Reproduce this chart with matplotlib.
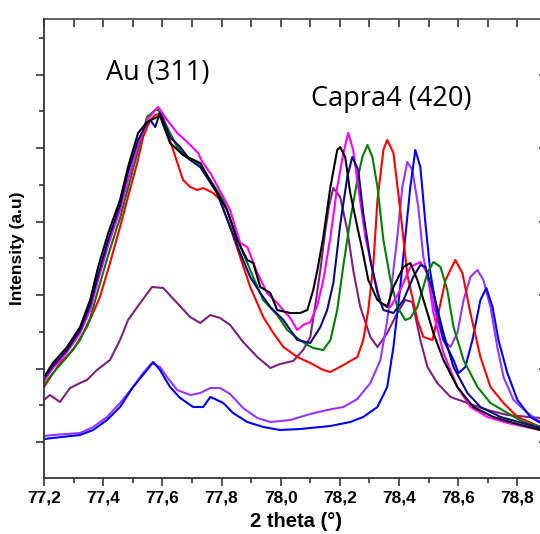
import numpy as np
import matplotlib
matplotlib.use('Agg')
import matplotlib.pyplot as plt
from matplotlib.ticker import MultipleLocator, FuncFormatter

# Diffractogrammes : (2 theta, intensite en u.a.)
black = [(77.200, 650), (77.230, 790), (77.278, 950), (77.322, 1150), (77.356, 1420), (77.383, 1750),
         (77.417, 2090), (77.457, 2420), (77.484, 2750), (77.518, 3090), (77.548, 3200), (77.576, 3240),
         (77.592, 3260), (77.626, 2990), (77.670, 2870), (77.728, 2790), (77.785, 2490), (77.819, 2320),
         (77.853, 2020), (77.887, 1820), (77.907, 1790), (77.931, 1550), (77.965, 1490), (77.988, 1320),
         (78.032, 1290), (78.066, 1290), (78.090, 1320), (78.110, 1520), (78.124, 1720), (78.144, 2050),
         (78.168, 2550), (78.191, 2920), (78.201, 2950), (78.218, 2850), (78.235, 2490), (78.259, 2150),
         (78.276, 1920), (78.296, 1620), (78.327, 1420), (78.360, 1350), (78.381, 1550), (78.415, 1750),
         (78.438, 1790), (78.462, 1620), (78.496, 1290), (78.516, 1090), (78.550, 820), (78.597, 550),
         (78.651, 350), (78.719, 250), (78.787, 190), (78.878, 120), (78.900, 100)]

magenta = [(77.200, 610), (77.230, 740), (77.278, 900), (77.322, 1090), (77.356, 1320), (77.383, 1620),
           (77.417, 1970), (77.457, 2320), (77.484, 2620), (77.518, 2970), (77.548, 3220), (77.576, 3320),
           (77.586, 3350), (77.616, 3220), (77.650, 3090), (77.684, 3000), (77.721, 2890), (77.735, 2800),
           (77.762, 2690), (77.806, 2450), (77.829, 2320), (77.863, 1990), (77.887, 1950), (77.921, 1690),
           (77.954, 1490), (77.988, 1390), (78.032, 1240), (78.056, 1120), (78.076, 1170), (78.100, 1200),
           (78.124, 1370), (78.144, 1620), (78.168, 2050), (78.191, 2550), (78.212, 2890), (78.228, 3090),
           (78.245, 2920), (78.262, 2550), (78.286, 2050), (78.313, 1690), (78.337, 1390), (78.371, 1350),
           (78.404, 1520), (78.438, 1750), (78.472, 1800), (78.496, 1690), (78.516, 1290), (78.550, 890),
           (78.597, 550), (78.641, 350), (78.699, 250), (78.766, 190), (78.878, 120), (78.902, 110)]

navy = [(77.200, 640), (77.230, 760), (77.278, 920), (77.322, 1120), (77.356, 1370), (77.383, 1670),
        (77.417, 2020), (77.457, 2370), (77.484, 2700), (77.518, 3020), (77.548, 3190), (77.559, 3220),
        (77.576, 3150), (77.592, 3290), (77.626, 3050), (77.660, 2950), (77.694, 2820), (77.728, 2750),
        (77.785, 2490), (77.829, 2150), (77.863, 1890), (77.897, 1650), (77.931, 1490), (77.965, 1350),
        (78.009, 1220), (78.056, 1020), (78.100, 990), (78.134, 1150), (78.157, 1320), (78.178, 1590),
        (78.201, 2170), (78.225, 2650), (78.242, 2850), (78.262, 2720), (78.279, 2290), (78.303, 1820),
        (78.327, 1490), (78.347, 1320), (78.381, 1290), (78.415, 1420), (78.448, 1650), (78.472, 1770),
        (78.489, 1750), (78.516, 1490), (78.550, 1090), (78.584, 750), (78.631, 490), (78.675, 350),
        (78.743, 250), (78.878, 140), (78.902, 130)]

green = [(77.200, 570), (77.230, 690), (77.278, 850), (77.322, 1020), (77.356, 1240), (77.383, 1520),
         (77.417, 1870), (77.457, 2240), (77.484, 2540), (77.518, 2920), (77.548, 3250), (77.576, 3320),
         (77.586, 3320), (77.616, 3150), (77.650, 2950), (77.684, 2840), (77.718, 2790), (77.762, 2620),
         (77.806, 2420), (77.839, 2150), (77.873, 1890), (77.907, 1650), (77.941, 1420), (77.988, 1270),
         (78.022, 1120), (78.056, 1040), (78.090, 970), (78.110, 940), (78.144, 920), (78.168, 1020),
         (78.191, 1320), (78.212, 1770), (78.235, 2220), (78.259, 2620), (78.276, 2850), (78.293, 2970),
         (78.310, 2850), (78.327, 2550), (78.347, 2020), (78.371, 1620), (78.394, 1350), (78.421, 1220),
         (78.438, 1240), (78.462, 1350), (78.496, 1690), (78.516, 1800), (78.540, 1750), (78.563, 1520),
         (78.584, 1150), (78.618, 820), (78.665, 550), (78.709, 390), (78.766, 290), (78.820, 200),
         (78.878, 150), (78.902, 140)]

red = [(77.200, 550), (77.254, 790), (77.298, 920), (77.345, 1150), (77.389, 1450), (77.423, 1790),
       (77.457, 2150), (77.481, 2420), (77.515, 2790), (77.535, 3050), (77.559, 3220), (77.576, 3270),
       (77.599, 3290), (77.633, 2950), (77.670, 2620), (77.694, 2550), (77.718, 2520), (77.738, 2540),
       (77.772, 2490), (77.795, 2420), (77.829, 2150), (77.863, 1850), (77.897, 1550), (77.941, 1250),
       (77.975, 1090), (78.009, 950), (78.056, 850), (78.100, 790), (78.144, 720), (78.168, 700),
       (78.212, 770), (78.259, 850), (78.279, 1020), (78.296, 1320), (78.313, 1770), (78.327, 2420),
       (78.347, 2920), (78.360, 3020), (78.381, 2890), (78.404, 2320), (78.428, 1670), (78.462, 1220),
       (78.482, 1050), (78.513, 1020), (78.533, 1290), (78.557, 1620), (78.590, 1820), (78.614, 1690),
       (78.641, 1290), (78.675, 850), (78.709, 550), (78.753, 390), (78.800, 250), (78.878, 150),
       (78.902, 140)]

violet = [(77.200, 60), (77.230, 70), (77.322, 90), (77.366, 150), (77.413, 250), (77.457, 390),
          (77.501, 550), (77.535, 690), (77.565, 790), (77.592, 750), (77.616, 650), (77.650, 520),
          (77.694, 470), (77.728, 490), (77.762, 540), (77.795, 540), (77.829, 480), (77.873, 340),
          (77.921, 240), (77.965, 200), (78.032, 220), (78.100, 280), (78.157, 320), (78.212, 350),
          (78.259, 430), (78.303, 590), (78.337, 820), (78.360, 1220), (78.377, 1620), (78.394, 2050),
          (78.411, 2550), (78.428, 2800), (78.445, 2720), (78.465, 2350), (78.482, 1850), (78.506, 1520),
          (78.529, 1220), (78.550, 1020), (78.574, 950), (78.597, 1090), (78.618, 1420), (78.641, 1650),
          (78.665, 1720), (78.685, 1620), (78.709, 1350), (78.732, 950), (78.753, 650), (78.787, 420),
          (78.834, 290), (78.878, 200), (78.902, 180)]

blue = [(77.200, 30), (77.230, 40), (77.322, 70), (77.366, 120), (77.413, 220), (77.457, 350),
        (77.501, 550), (77.548, 720), (77.569, 800), (77.592, 720), (77.626, 550), (77.660, 440),
        (77.704, 350), (77.738, 350), (77.762, 450), (77.785, 420), (77.806, 390), (77.839, 290),
        (77.887, 200), (77.941, 150), (77.998, 120), (78.066, 130), (78.100, 140), (78.168, 160),
        (78.235, 200), (78.279, 250), (78.327, 350), (78.360, 550), (78.381, 950), (78.404, 1550),
        (78.421, 2050), (78.438, 2550), (78.455, 2920), (78.472, 2750), (78.489, 2190), (78.506, 1690),
        (78.529, 1290), (78.550, 1020), (78.584, 820), (78.601, 690), (78.624, 750), (78.648, 1020),
        (78.675, 1420), (78.695, 1540), (78.716, 1350), (78.736, 1020), (78.766, 690), (78.800, 420),
        (78.844, 250), (78.878, 190), (78.902, 170)]

purple = [(77.200, 420), (77.220, 470), (77.254, 400), (77.288, 540), (77.322, 590), (77.345, 620),
          (77.379, 720), (77.423, 820), (77.457, 1020), (77.484, 1220), (77.525, 1390), (77.565, 1550),
          (77.603, 1540), (77.650, 1390), (77.694, 1250), (77.728, 1190), (77.762, 1270), (77.795, 1240),
          (77.829, 1170), (77.873, 1000), (77.921, 850), (77.965, 740), (77.998, 780), (78.042, 810),
          (78.076, 920), (78.100, 1050), (78.117, 1370), (78.134, 1720), (78.151, 2120), (78.164, 2370),
          (78.178, 2540), (78.201, 2450), (78.225, 2120), (78.245, 1720), (78.269, 1350), (78.303, 1050),
          (78.327, 950), (78.360, 1090), (78.394, 1290), (78.421, 1420), (78.445, 1400), (78.472, 1020),
          (78.496, 750), (78.529, 590), (78.574, 450), (78.631, 390), (78.699, 320), (78.766, 270),
          (78.878, 240), (78.902, 230)]

curves = [(purple, '#7f1f80'), (violet, '#9933ff'), (blue, '#0000ff'), (red, '#ff0000'),
          (green, '#008000'), (magenta, '#ff00ff'), (navy, '#0a0a80'), (black, '#000000')]

fig = plt.figure(figsize=(5.4, 5.34), dpi=100)
ax = fig.add_axes([44 / 540, 56 / 534, 503 / 540, 459 / 534])

for pts, col in curves:
    x = np.array([p[0] for p in pts])
    y = np.array([p[1] for p in pts])
    ax.plot(x, y, color=col, lw=1.5)

ax.set_xlim(77.2, 78.9)
ax.set_ylim(-360, 4230)

# axes et graduations
ax.xaxis.set_major_locator(MultipleLocator(0.2))
ax.xaxis.set_minor_locator(MultipleLocator(0.1))
ax.xaxis.set_major_formatter(FuncFormatter(lambda v, p: f'{v:.1f}'.replace('.', ',')))
ax.yaxis.set_major_locator(MultipleLocator(735))
ax.yaxis.set_minor_locator(MultipleLocator(367.5))
ax.tick_params(axis='both', which='major', direction='out', length=6, width=1.2, color='#333333')
ax.tick_params(axis='both', which='minor', direction='out', length=3.5, width=1.2, color='#333333')
ax.tick_params(axis='y', labelleft=False)
ax.tick_params(axis='x', labelsize=12.5, pad=3)
for lab in ax.get_xticklabels():
    lab.set_fontweight('bold')
    lab.set_family('Liberation Sans')

for side in ['top', 'right']:
    ax.spines[side].set_visible(False)
for side in ['left', 'bottom']:
    ax.spines[side].set_linewidth(1.3)
    ax.spines[side].set_color('#333333')

top = ax.secondary_xaxis('top')
top.xaxis.set_major_locator(MultipleLocator(0.1))
top.tick_params(direction='in', length=6, width=1.2, color='#333333', labeltop=False)
top.spines['top'].set_linewidth(1.3)
top.spines['top'].set_color('#555555')

right = ax.secondary_yaxis('right')
right.yaxis.set_major_locator(MultipleLocator(735))
right.tick_params(direction='in', length=6, width=1.2, color='#333333', labelright=False)
right.spines['right'].set_linewidth(1.3)

ax.set_xlabel('2 theta (°)', fontsize=14.5, fontweight='bold', family='Liberation Sans', labelpad=5)
ax.set_ylabel('Intensity (a.u)', fontsize=12.5, fontweight='bold', family='Liberation Sans', labelpad=7)

ax.text(77.586, 3690, 'Au (311)', fontsize=19.5, family='Open Sans', ha='center', va='center')
ax.text(78.372, 3430, 'Capra4 (420)', fontsize=19.5, family='Open Sans', ha='center', va='center')

fig.savefig('out.png', dpi=100)
